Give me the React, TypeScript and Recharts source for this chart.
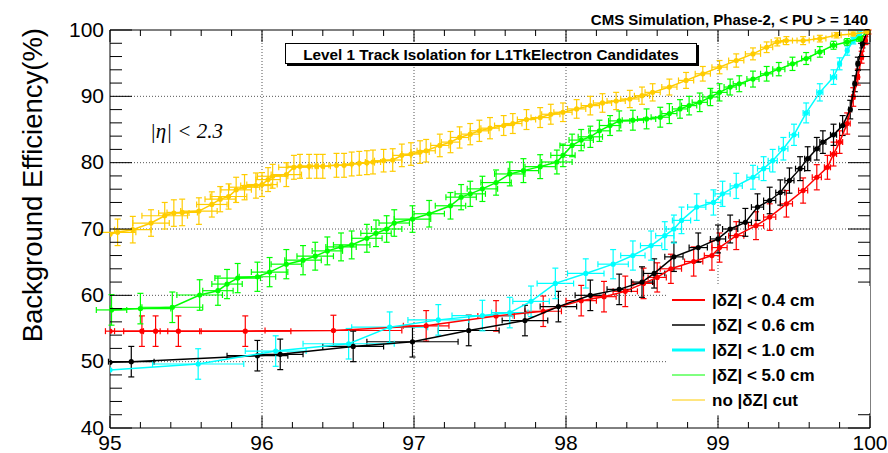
import React from 'react';
import { ScatterChart, Scatter, XAxis, YAxis, ErrorBar, ReferenceLine, ReferenceArea, Legend } from 'recharts';

// [signal efficiency %, background efficiency %, x error, y error]
type P = [number, number, number, number];

const dz04: P[] = [
  [95.0, 54.6, 0.03, 0], [95.21, 54.6, 0.12, 2.3], [95.3, 54.6, 0.08, 2.3], [95.45, 54.6, 0.15, 2.3],
  [95.89, 54.6, 0.3, 2.3], [96.47, 54.7, 0.45, 2.3], [97.08, 55.4, 0.15, 2.3], [97.54, 56.9, 0.12, 2.3],
  [97.85, 57.6, 0.12, 2.3], [98.1, 59.2, 0.1, 2.3], [98.25, 59.8, 0.08, 2.3], [98.39, 60.6, 0.08, 2.3],
  [98.51, 61.8, 0.07, 2.3], [98.6, 62.7, 0.06, 2.2], [98.69, 64.0, 0.07, 2.2], [98.84, 65.1, 0.06, 2.2],
  [98.96, 66.0, 0.05, 2.2], [99.01, 67.2, 0.05, 2.2], [99.12, 69.0, 0.05, 2.1], [99.25, 70.5, 0.05, 2.1],
  [99.34, 71.8, 0.04, 2.0], [99.45, 73.8, 0.04, 2.0], [99.56, 75.8, 0.03, 1.9], [99.65, 77.8, 0.03, 1.9],
  [99.72, 79.3, 0.02, 1.8], [99.76, 81.3, 0.02, 1.8], [99.8, 83.1, 0.02, 1.7], [99.85, 85.9, 0.02, 1.6],
  [99.89, 89.9, 0.01, 1.4], [99.92, 92.9, 0.01, 1.2], [99.945, 95.9, 0.01, 0.9], [99.97, 98.4, 0.01, 0.6],
  [99.99, 99.7, 0.005, 0.3], [100, 100, 0, 0],
];

const dz06: P[] = [
  [95.0, 49.9, 0, 0], [95.14, 50.0, 0.15, 2.3], [95.97, 50.9, 0.2, 2.3], [96.12, 51.1, 0.15, 2.3],
  [96.6, 52.3, 0.2, 2.3], [96.99, 53.0, 0.3, 2.3], [97.36, 54.7, 0.2, 2.3], [97.73, 56.2, 0.15, 2.3],
  [97.95, 58.3, 0.12, 2.3], [98.16, 60.0, 0.1, 2.3], [98.35, 60.9, 0.08, 2.3], [98.5, 62.0, 0.07, 2.3],
  [98.58, 63.3, 0.07, 2.2], [98.71, 65.8, 0.06, 2.2], [98.87, 67.2, 0.06, 2.2], [99.0, 68.5, 0.05, 2.1],
  [99.08, 70.0, 0.05, 2.1], [99.18, 71.0, 0.04, 2.1], [99.26, 73.3, 0.04, 2.0], [99.34, 74.3, 0.04, 2.0],
  [99.41, 75.5, 0.03, 1.9], [99.47, 77.3, 0.03, 1.9], [99.54, 79.1, 0.03, 1.8], [99.59, 80.6, 0.02, 1.8],
  [99.65, 82.1, 0.02, 1.7], [99.69, 83.1, 0.02, 1.7], [99.76, 84.2, 0.02, 1.6], [99.82, 85.6, 0.02, 1.5],
  [99.87, 88.0, 0.01, 1.4], [99.9, 91.9, 0.01, 1.2], [99.92, 94.9, 0.01, 1.0], [99.95, 97.9, 0.01, 0.6],
  [99.98, 99.7, 0.005, 0.3], [100, 100, 0, 0],
];

const dz10: P[] = [
  [95.0, 48.75, 0, 0], [95.58, 49.65, 0.3, 2.3], [96.09, 51.6, 0.2, 2.3], [96.57, 52.7, 0.3, 2.3],
  [96.84, 55.2, 0.25, 2.3], [97.16, 56.3, 0.2, 2.3], [97.45, 56.95, 0.2, 2.3], [97.63, 57.4, 0.12, 2.3],
  [97.77, 59.1, 0.12, 2.3], [97.93, 61.8, 0.12, 2.3], [98.13, 63.3, 0.12, 2.2], [98.31, 64.7, 0.1, 2.2],
  [98.44, 66.0, 0.08, 2.2], [98.56, 67.5, 0.07, 2.2], [98.65, 69.0, 0.06, 2.1], [98.71, 70.0, 0.05, 2.1],
  [98.76, 71.3, 0.06, 2.0], [98.86, 73.3, 0.06, 2.0], [98.97, 74.0, 0.05, 1.9], [99.03, 75.3, 0.05, 1.9],
  [99.12, 76.5, 0.04, 1.9], [99.23, 77.8, 0.04, 1.8], [99.3, 79.1, 0.04, 1.8], [99.36, 80.3, 0.03, 1.7],
  [99.43, 82.1, 0.03, 1.7], [99.5, 84.2, 0.03, 1.6], [99.58, 87.5, 0.02, 1.5], [99.67, 90.6, 0.02, 1.3],
  [99.76, 92.9, 0.02, 1.1], [99.8, 94.9, 0.01, 0.9], [99.85, 96.9, 0.01, 0.7], [99.89, 98.4, 0.01, 0.5],
  [99.93, 99.4, 0.01, 0.3], [100, 100, 0, 0],
];

const dz50: P[] = [
  [95.01, 57.8, 0.1, 2.3], [95.2, 58.0, 0.2, 2.3], [95.41, 58.2, 0.2, 2.3], [95.59, 60.05, 0.15, 2.3],
  [95.71, 60.7, 0.1, 2.2], [95.77, 61.7, 0.1, 2.2], [95.84, 62.6, 0.15, 2.2], [95.97, 62.8, 0.12, 2.2],
  [96.05, 63.5, 0.12, 2.2], [96.16, 64.7, 0.1, 2.2], [96.27, 65.3, 0.12, 2.2], [96.35, 65.9, 0.12, 2.1],
  [96.43, 66.7, 0.1, 2.1], [96.52, 67.3, 0.1, 2.1], [96.59, 67.6, 0.12, 2.1], [96.69, 68.6, 0.1, 2.1],
  [96.75, 69.35, 0.1, 2.0], [96.82, 70.0, 0.1, 2.0], [96.87, 70.9, 0.1, 2.0], [96.99, 71.5, 0.12, 2.0],
  [97.1, 72.3, 0.1, 2.0], [97.24, 73.5, 0.1, 2.0], [97.31, 74.8, 0.1, 1.9], [97.37, 75.3, 0.1, 1.9],
  [97.45, 76.05, 0.1, 1.9], [97.54, 77.0, 0.1, 1.9], [97.63, 78.3, 0.1, 1.8], [97.72, 78.8, 0.1, 1.8],
  [97.83, 79.4, 0.1, 1.8], [97.94, 80.1, 0.1, 1.8], [97.98, 81.1, 0.08, 1.7], [98.04, 82.6, 0.08, 1.7],
  [98.1, 83.4, 0.08, 1.6], [98.16, 83.9, 0.08, 1.6], [98.22, 84.8, 0.07, 1.6], [98.29, 85.6, 0.07, 1.5],
  [98.35, 86.3, 0.07, 1.5], [98.44, 86.4, 0.07, 1.5], [98.53, 86.6, 0.06, 1.5], [98.62, 86.85, 0.06, 1.5],
  [98.68, 87.4, 0.05, 1.5], [98.75, 88.1, 0.05, 1.4], [98.81, 88.6, 0.05, 1.4], [98.88, 89.1, 0.05, 1.4],
  [98.95, 89.9, 0.05, 1.3], [99.01, 90.6, 0.05, 1.3], [99.08, 91.4, 0.04, 1.2], [99.14, 91.9, 0.04, 1.2],
  [99.23, 92.6, 0.04, 1.2], [99.32, 93.4, 0.04, 1.1], [99.4, 94.1, 0.04, 1.0], [99.49, 94.9, 0.03, 1.0],
  [99.58, 95.7, 0.03, 0.9], [99.67, 96.7, 0.03, 0.8], [99.76, 97.7, 0.02, 0.6], [99.85, 98.2, 0.02, 0.5],
  [99.93, 98.7, 0.02, 0.4], [100, 100, 0, 0],
];

const noCut: P[] = [
  [95.0, 69.2, 0, 0], [95.05, 69.5, 0.12, 2.0], [95.15, 69.9, 0.12, 2.0], [95.27, 70.9, 0.12, 2.0],
  [95.36, 72.0, 0.15, 2.0], [95.42, 72.4, 0.1, 2.0], [95.475, 72.5, 0.1, 2.0], [95.585, 72.7, 0.12, 2.0],
  [95.67, 73.7, 0.1, 1.9], [95.725, 74.5, 0.1, 1.9], [95.78, 74.9, 0.12, 1.9], [95.83, 75.9, 0.1, 1.9],
  [95.885, 76.3, 0.1, 1.9], [95.96, 76.55, 0.1, 1.9], [96.0, 76.7, 0.1, 1.8], [96.04, 77.45, 0.08, 1.8],
  [96.07, 77.95, 0.1, 1.8], [96.16, 78.2, 0.1, 1.8], [96.21, 79.3, 0.1, 1.8], [96.25, 79.45, 0.08, 1.8],
  [96.31, 79.45, 0.06, 1.8], [96.36, 79.45, 0.05, 1.8], [96.4, 79.45, 0.05, 1.8], [96.49, 79.6, 0.05, 1.8],
  [96.54, 79.6, 0.05, 1.8], [96.59, 79.8, 0.05, 1.8], [96.64, 79.9, 0.05, 1.8], [96.69, 80.0, 0.05, 1.8],
  [96.73, 80.1, 0.05, 1.8], [96.8, 80.3, 0.06, 1.7], [96.86, 80.4, 0.06, 1.7], [96.92, 81.1, 0.06, 1.7],
  [96.98, 81.3, 0.06, 1.7], [97.04, 81.6, 0.06, 1.7], [97.08, 81.8, 0.06, 1.7], [97.17, 82.6, 0.06, 1.7],
  [97.24, 83.1, 0.06, 1.6], [97.3, 83.8, 0.06, 1.6], [97.37, 84.3, 0.06, 1.6], [97.43, 84.8, 0.06, 1.6],
  [97.5, 85.2, 0.06, 1.6], [97.59, 85.6, 0.06, 1.5], [97.65, 85.9, 0.06, 1.5], [97.74, 86.5, 0.06, 1.5],
  [97.83, 86.8, 0.06, 1.5], [97.9, 87.3, 0.06, 1.5], [97.98, 87.6, 0.06, 1.4], [98.07, 88.1, 0.06, 1.4],
  [98.16, 88.6, 0.06, 1.4], [98.24, 89.0, 0.06, 1.4], [98.33, 89.3, 0.06, 1.3], [98.42, 89.6, 0.06, 1.3],
  [98.5, 90.1, 0.05, 1.3], [98.57, 90.6, 0.05, 1.3], [98.68, 91.4, 0.05, 1.2], [98.79, 92.4, 0.05, 1.2],
  [98.9, 93.4, 0.05, 1.1], [99.01, 94.4, 0.05, 1.0], [99.12, 95.4, 0.05, 1.0], [99.23, 96.4, 0.05, 0.9],
  [99.32, 97.4, 0.04, 0.8], [99.39, 98.2, 0.04, 0.6], [99.45, 98.4, 0.04, 0.6], [99.56, 98.4, 0.04, 0.6],
  [99.67, 98.7, 0.04, 0.5], [99.78, 99.2, 0.03, 0.4], [99.89, 99.4, 0.03, 0.3], [99.98, 99.7, 0.02, 0.2],
  [100, 100, 0, 0],
];

const xTicks = [95, 95.2, 95.4, 95.6, 95.8, 96, 96.2, 96.4, 96.6, 96.8, 97, 97.2, 97.4, 97.6, 97.8, 98,
  98.2, 98.4, 98.6, 98.8, 99, 99.2, 99.4, 99.6, 99.8, 100];
const yTicks = [40, 42, 44, 46, 48, 50, 52, 54, 56, 58, 60, 62, 64, 66, 68, 70, 72, 74, 76, 78, 80,
  82, 84, 86, 88, 90, 92, 94, 96, 98, 100];
const xGrid = [96, 97, 98, 99];
const yGrid = [50, 60, 70, 80, 90];

const seriesNames = ['|δZ| < 0.4 cm', '|δZ| < 0.6 cm', '|δZ| < 1.0 cm', '|δZ| < 5.0 cm', 'no |δZ| cut'];
const seriesColors = ['#ff0000', '#000000', '#00ffff', '#00ff00', '#ffcc00'];
const legendWidths = [2, 1.5, 3, 1, 1];
const seriesData = [dz04, dz06, dz10, dz50, noCut];

const FONT = '"Liberation Sans", Arial, Helvetica, sans-serif';
const W = 888;
const H = 453;
const PT = 30; // plot top
const PB = 428; // plot bottom
const PL = 110; // plot left
const PR = 870; // plot right

const isMajor = (v: number, step: number) => Math.abs(v / step - Math.round(v / step)) < 1e-6;

const XTick = (props: any) => {
  const { x, payload } = props;
  const v = payload.value;
  const major = isMajor(v, 1);
  const len = major ? 12 : 6;
  return (
    <g>
      <line x1={x} y1={PB} x2={x} y2={PB - len} stroke="#000" strokeWidth={1} />
      <line x1={x} y1={PT} x2={x} y2={PT + len} stroke="#000" strokeWidth={1} />
      {major && (
        <text x={x} y={PB + 22} textAnchor="middle" fontFamily={FONT} fontSize={21} fill="#000">
          {v}
        </text>
      )}
    </g>
  );
};

const YTick = (props: any) => {
  const { y, payload } = props;
  const v = payload.value;
  const major = isMajor(v, 10);
  const len = major ? 22 : 12;
  return (
    <g>
      <line x1={PL} y1={y} x2={PL + len} y2={y} stroke="#000" strokeWidth={1} />
      <line x1={PR} y1={y} x2={PR - len} y2={y} stroke="#000" strokeWidth={1} />
      {major && (
        <text x={PL - 6} y={y + 6.5} textAnchor="end" fontFamily={FONT} fontSize={21} fill="#000">
          {v}
        </text>
      )}
    </g>
  );
};

const LegendBox = () => (
  <div style={{ width: 202, height: 127, background: '#fff' }}>
    <svg width={202} height={127}>
      {seriesNames.map((n, i) => (
        <g key={n}>
          <line x1={4} x2={37} y1={14 + 25 * i} y2={14 + 25 * i} stroke={seriesColors[i]} strokeWidth={legendWidths[i]} />
          <text x={44} y={20 + 25 * i} fontSize={17} fontWeight="bold" fontFamily={FONT} fill="#000">
            {n}
          </text>
        </g>
      ))}
    </svg>
  </div>
);

export default function App() {
  return (
    <div style={{ position: 'relative', width: W, height: H, background: '#fff' }}>
      <style>{`body{margin:0;background:#fff;}`}</style>
      <ScatterChart width={W} height={H} margin={{ top: PT, right: W - PR, bottom: 0, left: 0 }}>
        <XAxis
          type="number"
          dataKey="x"
          domain={[95, 100]}
          ticks={xTicks}
          interval={0}
          allowDataOverflow
          axisLine={false}
          tickLine={false}
          tickSize={0}
          tickMargin={0}
          height={H - PB}
          tick={(p: any) => <XTick {...p} />}
        />
        <YAxis
          type="number"
          dataKey="y"
          domain={[40, 100]}
          ticks={yTicks}
          interval={0}
          allowDataOverflow
          axisLine={false}
          tickLine={false}
          tickSize={0}
          tickMargin={0}
          width={PL}
          tick={(p: any) => <YTick {...p} />}
        />
        {xGrid.map((v) => (
          <ReferenceLine key={'gx' + v} x={v} stroke="#555" strokeWidth={1} strokeDasharray="1 2" />
        ))}
        {yGrid.map((v) => (
          <ReferenceLine key={'gy' + v} y={v} stroke="#555" strokeWidth={1} strokeDasharray="1 2" />
        ))}
        {seriesData.map((d, i) => {
          const c = seriesColors[i];
          return (
            <Scatter
              key={seriesNames[i]}
              name={seriesNames[i]}
              data={d.map(([x, y, ex, ey]) => ({ x, y, ex, ey }))}
              fill={c}
              line={{ stroke: c, strokeWidth: 1.5 }}
              lineType="joint"
              isAnimationActive={false}
              shape={(p: any) => <circle cx={p.cx} cy={p.cy} r={2.6} fill={c} />}
            >
              <ErrorBar dataKey="ex" direction="x" width={3} stroke={c} strokeWidth={1.2} />
              <ErrorBar dataKey="ey" direction="y" width={3} stroke={c} strokeWidth={1.2} />
            </Scatter>
          );
        })}
        <ReferenceArea x1={95} x2={100} y1={40} y2={100} fill="none" stroke="#000" strokeWidth={1} ifOverflow="visible" />
        <Legend
          layout="horizontal"
          verticalAlign="middle"
          align="center"
          wrapperStyle={{ left: 668, top: 286, width: 202, height: 127 }}
          content={() => <LegendBox />}
        />
      </ScatterChart>
      <svg
        width={W}
        height={H}
        style={{ position: 'absolute', left: 0, top: 0, pointerEvents: 'none' }}
      >
        <text
          transform="translate(42,28) rotate(-90)"
          textAnchor="end"
          fontFamily={FONT}
          fontSize={27.5}
          fill="#000"
        >
          Background Efficiency(%)
        </text>
        <text x={868} y={25} textAnchor="end" fontFamily={FONT} fontSize={15} fontWeight="bold" fill="#000">
          CMS Simulation, Phase-2, &lt; PU &gt; = 140
        </text>
        <rect x={287} y={45} width={412} height={21} fill="#000" />
        <rect x={285.5} y={43.5} width={411} height={20} fill="#fff" stroke="#000" strokeWidth={1} />
        <text x={491} y={59.5} textAnchor="middle" fontFamily={FONT} fontSize={15.3} fontWeight="bold" fill="#000">
          Level 1 Track Isolation for L1TkElectron Candidates
        </text>
        <text x={150} y={138} fontFamily='"Liberation Serif", "Times New Roman", serif' fontStyle="italic" fontSize={21} fill="#000">
          |η| &lt; 2.3
        </text>
      </svg>
    </div>
  );
}
